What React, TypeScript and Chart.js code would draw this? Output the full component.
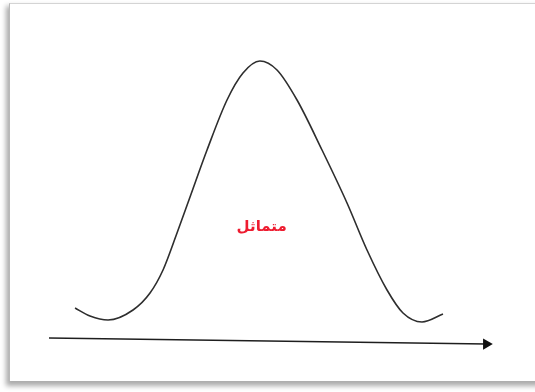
import React, { useEffect, useRef } from "react";
import { Chart, registerables } from "chart.js";

Chart.register(...registerables);

// Bell curve (abstract units: x 0..100 along the axis, y 0..100 up to the peak)
const curveX = [5.86, 9.23, 13.29, 18.92, 22.75, 25.68, 28.83, 31.76, 35.59, 40.09, 43.69, 47.5, 51.35, 55.86, 61.49, 67.12, 71.62, 76.13, 79.73, 84.01, 88.74];
const curveY = [11.79, 8.93, 7.5, 11.07, 17.14, 25.36, 38.57, 51.43, 68.21, 86.07, 95.71, 100, 96.79, 86.07, 68.21, 49.29, 32.5, 18.21, 10, 6.79, 9.64];

// Horizontal axis arrow
const axisX = [0, 98.5];
const axisY = [1.07, -1.07];

// Label
const labelText = "متماثل";
const labelX = [47.9];
const labelY = [40.7];

const labelPlugin = {
  id: "labelPlugin",
  afterDatasetsDraw(chart: any) {
    const { ctx, scales } = chart;
    ctx.save();
    ctx.fillStyle = "rgb(238, 28, 48)";
    ctx.font = 'bold 15px "DejaVu Sans", "Noto Sans", sans-serif';
    ctx.textAlign = "center";
    ctx.textBaseline = "middle";
    (ctx as any).direction = "rtl";
    ctx.fillText(labelText, scales.x.getPixelForValue(labelX[0]), scales.y.getPixelForValue(labelY[0]));
    ctx.restore();
  },
};

export default function App() {
  const ref = useRef<HTMLCanvasElement | null>(null);
  useEffect(() => {
    if (!ref.current) return;
    const chart = new Chart(ref.current, {
      type: "scatter",
      data: {
        datasets: [
          {
            data: curveX.map((x, i) => ({ x, y: curveY[i] })),
            showLine: true,
            borderColor: "#2e2e2e",
            borderWidth: 1.6,
            pointRadius: 0,
            cubicInterpolationMode: "monotone",
            fill: false,
          },
          {
            data: axisX.map((x, i) => ({ x, y: axisY[i] })),
            showLine: true,
            borderColor: "#1e1e1e",
            borderWidth: 1.5,
            pointRadius: [0, 6.5],
            pointStyle: "triangle",
            rotation: 90,
            pointBackgroundColor: "#111",
            pointBorderColor: "#111",
            pointBorderWidth: 0,
            fill: false,
          } as any,
        ],
      },
      options: {
        animation: false,
        responsive: false,
        maintainAspectRatio: false,
        layout: { padding: 0, autoPadding: false },
        plugins: { legend: { display: false }, tooltip: { enabled: false } },
        scales: {
          x: { type: "linear", display: false, min: -11.04, max: 109.46 },
          y: { type: "linear", display: false, min: -18.21, max: 121.79 },
        },
        events: [],
      },
      plugins: [labelPlugin],
    });
    return () => chart.destroy();
  }, []);

  return (
    <div style={{ position: "fixed", left: 0, top: 0, width: 535, height: 392, overflow: "hidden", background: "#fff" }}>
      <div
        style={{
          position: "absolute",
          left: 9,
          top: 3,
          width: 580,
          height: 377,
          background: "#fff",
          borderTop: "1px solid #d4d4d4",
          borderLeft: "1px solid #b8b8b8",
          boxShadow: "-2px 4px 5px 1px rgba(0,0,0,0.33)",
        }}
      />
      <canvas ref={ref} width={535} height={392} style={{ position: "absolute", left: 0, top: 0, width: 535, height: 392 }} />
    </div>
  );
}
